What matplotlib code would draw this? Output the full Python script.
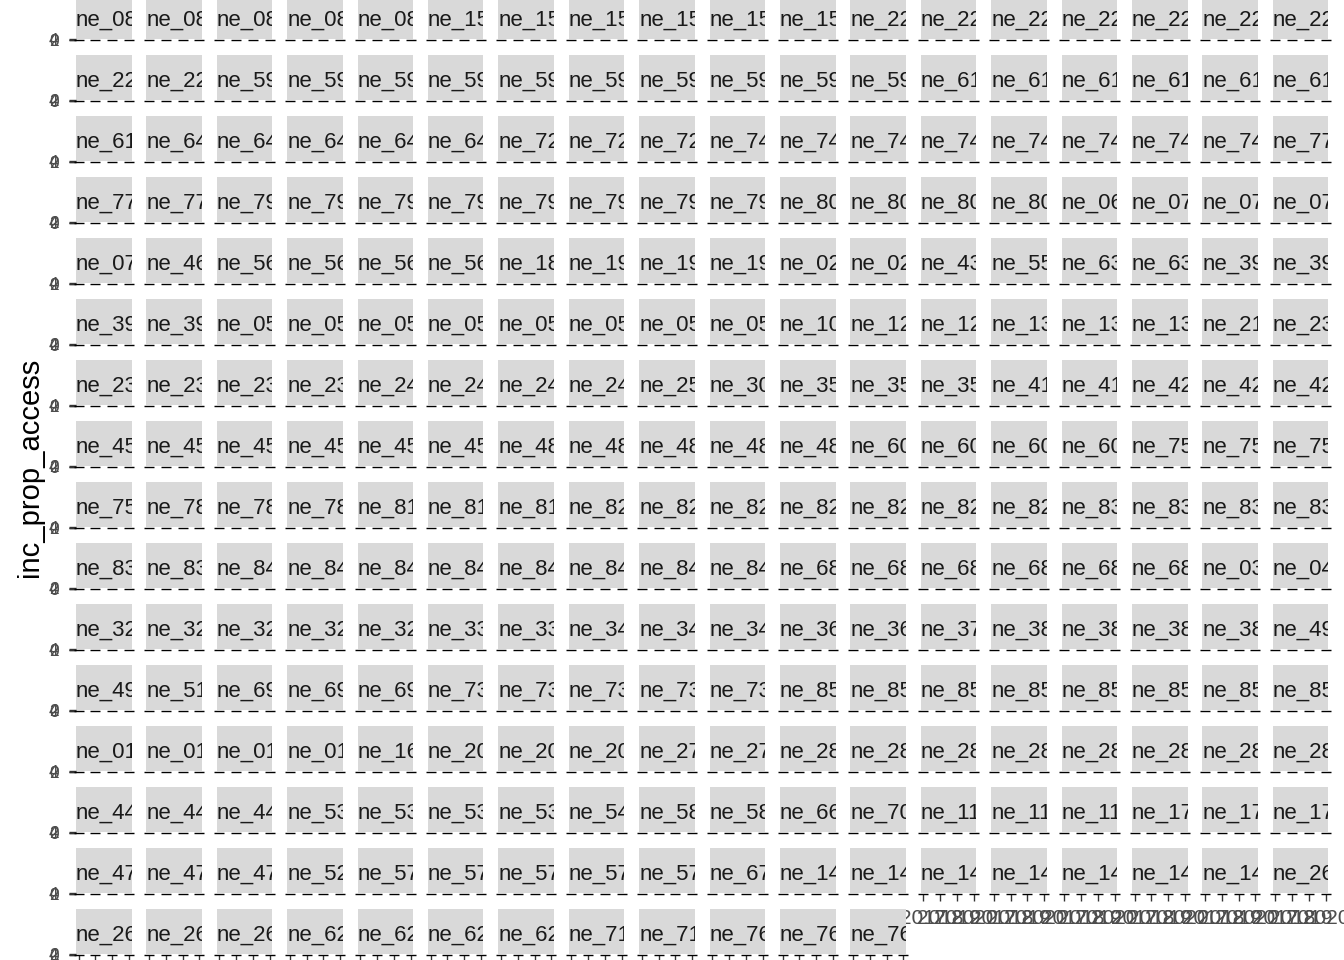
import matplotlib
matplotlib.use("Agg")
import matplotlib.pyplot as plt
from matplotlib import font_manager

# facet strip prefixes (as visible, clipped in the strips) and how many panels in a row use each
facet_prefix = [
    "ne_08", "ne_15", "ne_22", "ne_59", "ne_61", "ne_64", "ne_72", "ne_74", "ne_77",
    "ne_79", "ne_80", "ne_06", "ne_07", "ne_46", "ne_56", "ne_18", "ne_19", "ne_02",
    "ne_43", "ne_55", "ne_63", "ne_39", "ne_05", "ne_10", "ne_12", "ne_13", "ne_21",
    "ne_23", "ne_24", "ne_25", "ne_30", "ne_35", "ne_41", "ne_42", "ne_45", "ne_48",
    "ne_60", "ne_75", "ne_78", "ne_81", "ne_82", "ne_83", "ne_84", "ne_68", "ne_03",
    "ne_04", "ne_32", "ne_33", "ne_34", "ne_36", "ne_37", "ne_38", "ne_49", "ne_51",
    "ne_69", "ne_73", "ne_85", "ne_01", "ne_16", "ne_20", "ne_27", "ne_28", "ne_44",
    "ne_53", "ne_54", "ne_58", "ne_66", "ne_70", "ne_11", "ne_17", "ne_47", "ne_52",
    "ne_57", "ne_67", "ne_14", "ne_26", "ne_62", "ne_71", "ne_76",
]
facet_count = [
    5, 6, 9, 10, 7, 5, 3, 8, 3,
    8, 4, 1, 4, 1, 4, 1, 3, 2,
    1, 1, 2, 4, 8, 1, 2, 3, 1,
    5, 4, 1, 1, 3, 2, 3, 6, 5,
    4, 4, 3, 3, 7, 6, 8, 6, 1,
    1, 5, 2, 3, 2, 1, 4, 2, 1,
    3, 5, 8, 4, 1, 3, 2, 8, 3,
    4, 1, 2, 1, 1, 3, 3, 3, 1,
    5, 1, 7, 4, 4, 2, 3,
]

years = [2017, 2018, 2019, 2020]
year_labels = ["2017", "2018", "2019", "2020"]
access_values = [2, 2, 2, 2]
y_ticks = [0, 2, 4]
y_tick_labels = ["0", "2", "4"]

panels = []
for name, n in zip(facet_prefix, facet_count):
    panels += [name] * n

plt.rcParams["font.family"] = ["Liberation Sans", "DejaVu Sans"]

# strip text in the reference looks condensed -> narrow face if we have it
installed = {f.name for f in font_manager.fontManager.ttflist}
if "Liberation Sans Narrow" in installed:
    strip_font, strip_size = "Liberation Sans Narrow", 18.5
else:
    strip_font, strip_size = "Liberation Sans", 16

W, H = 1344, 960
NCOL = 18
col0, col_step, pan_w = 76, 70.4, 55.5
row0, row_step, strip_h = 39, 61, 45

fig = plt.figure(figsize=(W / 100, H / 100), dpi=100)

n_panels = len(panels)

for i, name in enumerate(panels):
    r, c = divmod(i, NCOL)
    left = (col0 + c * col_step) / W
    base = 1 - (row0 + r * row_step) / H

    # strip
    sax = fig.add_axes([left, base, pan_w / W, strip_h / H])
    sax.set_facecolor("#D9D9D9")
    sax.set_xticks([])
    sax.set_yticks([])
    for sp in sax.spines.values():
        sp.set_visible(False)
    sax.text(0.0, 0.42, name, transform=sax.transAxes, ha="left", va="center",
             fontsize=strip_size, family=strip_font, color="#1A1A1A", clip_on=True)

    # panel (collapsed to almost no height)
    ax = fig.add_axes([left, base - 1.0 / H, pan_w / W, 1.0 / H])
    ax.set_facecolor("none")
    for sp in ax.spines.values():
        sp.set_visible(False)
    ax.plot(years, access_values, linestyle="none", marker="_", markersize=7,
            markeredgewidth=1.0, color="black", clip_on=False, zorder=5)
    ax.set_xlim(years[0] - 0.15, years[-1] + 0.15)
    ax.set_ylim(y_ticks[0], y_ticks[-1])

    ax.set_yticks(y_ticks)
    if c == 0:
        ax.set_yticklabels(y_tick_labels)
        ax.tick_params(axis="y", length=5, width=1.0, color="#333333", pad=7.5,
                       labelsize=12.5, labelcolor="#4D4D4D")
    else:
        ax.tick_params(axis="y", left=False, labelleft=False)

    bottom_of_col = (i + NCOL >= n_panels)
    ax.set_xticks(years)
    if bottom_of_col:
        ax.set_xticklabels(year_labels)
        ax.tick_params(axis="x", length=5, width=1.0, color="#333333", pad=5.8,
                       labelsize=15, labelcolor="#4D4D4D")
    else:
        ax.tick_params(axis="x", bottom=False, labelbottom=False)

fig.text(30 / W, 1 - 467 / H, "inc_prop_access", rotation=90, ha="center",
         va="center", fontsize=21, color="black")

fig.savefig("out.png", dpi=100)
